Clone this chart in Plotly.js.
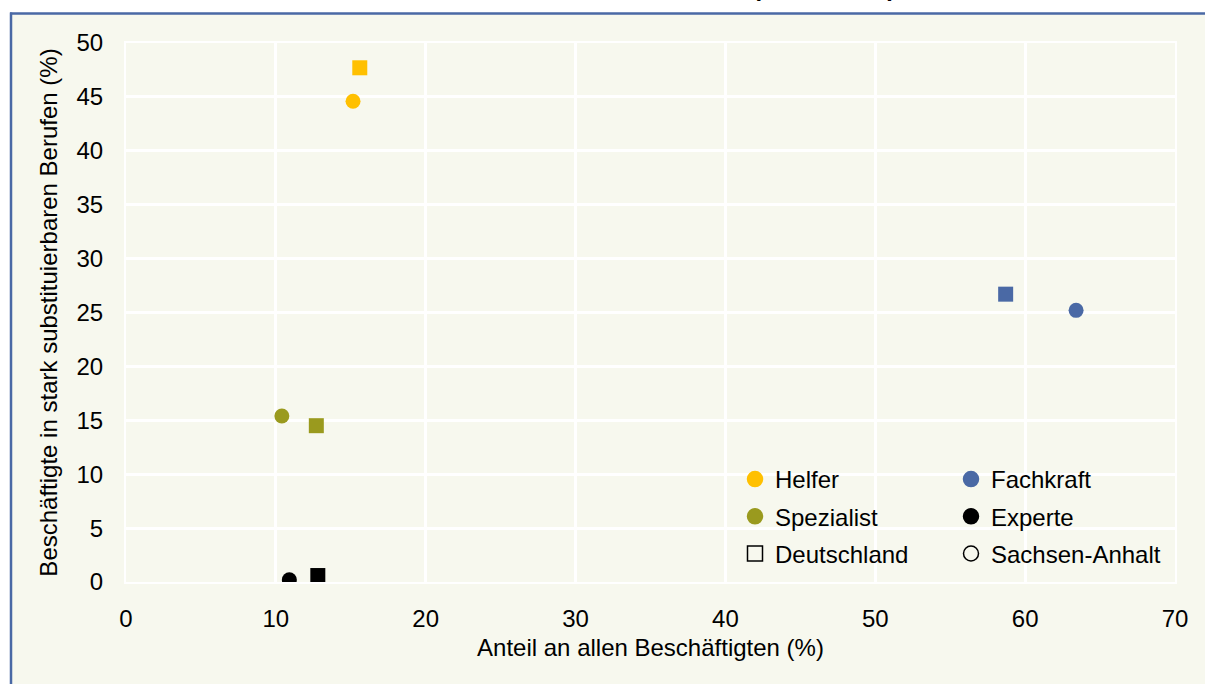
<!DOCTYPE html>
<html>
<head>
<meta charset="utf-8">
<script src="https://cdn.plot.ly/plotly-3.0.1.min.js"></script>
<style>html,body{margin:0;padding:0;background:#fff;}#chart{width:1205px;height:684px;}</style>
</head>
<body>
<div id="chart"></div>
<script>
// Data
const categories = ['Helfer', 'Fachkraft', 'Spezialist', 'Experte'];
const categoryColors = ['#FFC000', '#4A69A5', '#9A9A1E', '#000000'];
const regions = ['Deutschland', 'Sachsen-Anhalt'];
// Anteil an allen Beschäftigten (%)
const deutschlandX = [15.6, 58.7, 12.7, 12.8];
const sachsenAnhaltX = [15.15, 63.4, 10.4, 10.9];
// Beschäftigte in stark substituierbaren Berufen (%)
const deutschlandY = [47.7, 26.7, 14.5, 0.6];
const sachsenAnhaltY = [44.6, 25.2, 15.4, 0.2];

const xTickVals = [0, 10, 20, 30, 40, 50, 60, 70];
const yTickVals = [0, 5, 10, 15, 20, 25, 30, 35, 40, 45, 50];

const chartTitle = 'Stark substituierbare Berufe in Sachsen-Anhalt und Deutschland (Stand 2016)';

const FONT = 'Liberation Sans, Arial, sans-serif';
const traces = [];

// data points: one trace per category and region
categories.forEach((c, i) => {
  traces.push({
    type: 'scatter', mode: 'markers', name: c + ' Deutschland',
    x: [deutschlandX[i]], y: [deutschlandY[i]],
    marker: {symbol: 'square', size: 15, color: categoryColors[i]},
    showlegend: false, hoverinfo: 'x+y'
  });
  traces.push({
    type: 'scatter', mode: 'markers', name: c + ' Sachsen-Anhalt',
    x: [sachsenAnhaltX[i]], y: [sachsenAnhaltY[i]],
    marker: {symbol: 'circle', size: 15, color: categoryColors[i]},
    showlegend: false, hoverinfo: 'x+y'
  });
});

// legend entries (two columns)
const legendLeft = [
  {name: categories[0], symbol: 'circle', color: categoryColors[0]},
  {name: categories[2], symbol: 'circle', color: categoryColors[2]},
  {name: regions[0], symbol: 'square-open', color: '#000000'}
];
const legendRight = [
  {name: categories[1], symbol: 'circle', color: categoryColors[1]},
  {name: categories[3], symbol: 'circle', color: categoryColors[3]},
  {name: regions[1], symbol: 'circle-open', color: '#000000'}
];
legendLeft.forEach((e, k) => traces.push({
  type: 'scatter', mode: 'markers', name: e.name, x: [null], y: [null],
  legend: 'legend', legendgroup: 'L' + k,
  marker: {symbol: e.symbol, size: 15, color: e.color, line: {width: 1.5, color: e.color}}
}));
legendRight.forEach((e, k) => traces.push({
  type: 'scatter', mode: 'markers', name: e.name, x: [null], y: [null],
  legend: 'legend2', legendgroup: 'R' + k,
  marker: {symbol: e.symbol, size: 15, color: e.color, line: {width: 1.5, color: e.color}}
}));

// geometry helpers (plot area: 126..1175 px wide, 43..582 px tall)
const L = 126, R = 30, T = 43, B = 102;
const W = 1205 - L - R, H = 684 - T - B;
const px = x => (x - L) / W;
const py = y => (684 - B - y) / H;

const legendBase = {
  bgcolor: 'rgba(0,0,0,0)', borderwidth: 0,
  font: {family: FONT, size: 24, color: '#000'},
  tracegroupgap: 3, yanchor: 'top', xanchor: 'left', orientation: 'v'
};

const frameColor = '#4A69A5';

const layout = {
  width: 1205, height: 684,
  paper_bgcolor: '#FFFFFF',
  plot_bgcolor: '#EDEBDC',
  margin: {l: L, r: R, t: T, b: B, pad: 0},
  font: {family: FONT, size: 24, color: '#000'},
  xaxis: {
    range: [0, 70], tickvals: xTickVals, ticktext: xTickVals.map(String),
    showgrid: true, gridcolor: '#FFFFFF', gridwidth: 3,
    zeroline: false, showline: true, linecolor: '#FFFFFF', linewidth: 2, mirror: true,
    ticks: '',
    ticklabelstandoff: 14,
    tickfont: {family: FONT, size: 24, color: '#000'},
    title: {text: 'Anteil an allen Beschäftigten (%)', standoff: 8,
            font: {family: FONT, size: 24, color: '#000'}},
    fixedrange: true
  },
  yaxis: {
    range: [0, 50], tickvals: yTickVals, ticktext: yTickVals.map(String),
    showgrid: true, gridcolor: '#FFFFFF', gridwidth: 3,
    zeroline: false, showline: true, linecolor: '#FFFFFF', linewidth: 2, mirror: true,
    ticks: '',
    ticklabelstandoff: 16,
    tickfont: {family: FONT, size: 24, color: '#000'},
    title: {text: 'Beschäftigte in stark substituierbaren Berufen (%)', standoff: 12,
            font: {family: FONT, size: 24, color: '#000'}},
    fixedrange: true
  },
  legend: Object.assign({}, legendBase, {x: px(735), y: py(457)}),
  legend2: Object.assign({}, legendBase, {x: px(951), y: py(457)}),
  annotations: [{
    text: chartTitle, showarrow: false,
    xref: 'paper', yref: 'paper', x: px(897), xanchor: 'right',
    y: py(2.5), yanchor: 'bottom', borderpad: 0,
    font: {family: FONT, size: 24, color: '#000', weight: 'bold'}
  }],
  shapes: [
    {type: 'rect', xref: 'paper', yref: 'paper', layer: 'below',
     x0: px(11), x1: px(1205), y0: py(13.5), y1: py(684),
     fillcolor: '#F7F8EE', line: {width: 0}},
    {type: 'line', xref: 'paper', yref: 'paper', layer: 'below',
     x0: px(10), x1: px(1205), y0: py(13.5), y1: py(13.5),
     line: {color: frameColor, width: 2.5}},
    {type: 'line', xref: 'paper', yref: 'paper', layer: 'below',
     x0: px(11), x1: px(11), y0: py(12.5), y1: py(684),
     line: {color: frameColor, width: 2.5}}
  ],
  hovermode: 'closest'
};

Plotly.newPlot('chart', traces, layout, {displayModeBar: false, staticPlot: true});
</script>
</body>
</html>
